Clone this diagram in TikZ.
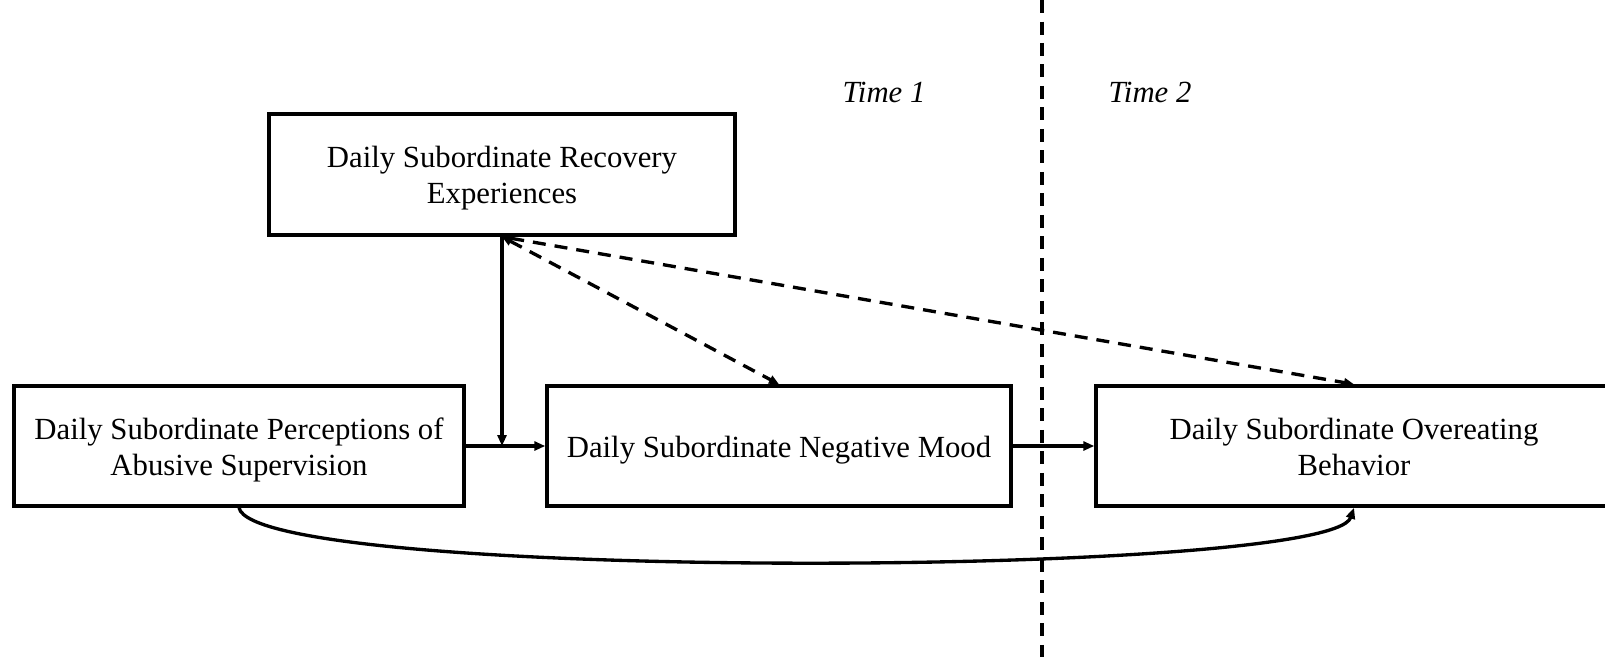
\documentclass[tikz,border=0pt]{standalone}
\usepackage{fontspec}
\setmainfont{Liberation Serif}
\usetikzlibrary{arrows.meta}
\begin{document}
\begin{tikzpicture}[x=0.02cm,y=-0.02cm,
        box/.style={draw,line width=2pt,align=center,inner sep=0pt,
                minimum height=2.4cm,font=\fontsize{17.5}{20.4}\selectfont},
        arr/.style={line width=1.9pt,-{Triangle[length=0.22cm,width=0.18cm]}},
        darr/.style={line width=1.9pt,dash pattern=on 0.26cm off 0.18cm,
                {Triangle[length=0.2cm,width=0.17cm]}-{Triangle[length=0.2cm,width=0.17cm]}},
        timelbl/.style={font=\fontsize{17.5}{20.4}\selectfont\itshape}]
        \useasboundingbox (0,0) rectangle (1605,657);
        \clip (0,0) rectangle (1605,657);
        \coordinate (divtop) at (1042,0);
        \coordinate (divbot) at (1042,657);
        \draw[line width=1.9pt,dash pattern=on 0.26cm off 0.17cm] (divtop) -- (divbot);
        \node[timelbl] (time1) at (884,92) {Time 1};
        \node[timelbl] (time2) at (1150,92) {Time 2};

        \node[box,minimum width=9.32cm,minimum height=2.42cm] (recov) at (502,174.5)
                {\rule{0pt}{16.5pt}Daily Subordinate Recovery\\Experiences};
        \node[box,minimum width=9.0cm] (abuse) at (239,446)
                {\rule{0pt}{16.5pt}Daily Subordinate Perceptions of\\Abusive Supervision};
        \node[box,minimum width=9.28cm] (mood) at (779,446)
                {\rule{0pt}{16.5pt}Daily Subordinate Negative Mood};
        \node[box,minimum width=10.32cm] (eat) at (1354,446)
                {\rule{0pt}{13pt}Daily Subordinate Overeating\\Behavior};

        \draw[arr] (abuse) -- (mood);
        \draw[arr] (mood) -- (eat);
        \draw[arr] (recov.south) -- (recov.south |- abuse.east);
        \draw[darr] (recov.south) -- (mood.north);
        \draw[darr] (recov.south) -- (eat.north);
        \draw[arr] (abuse.south) .. controls (255,582) and (1330,578) .. (eat.south);
\end{tikzpicture}
\end{document}
